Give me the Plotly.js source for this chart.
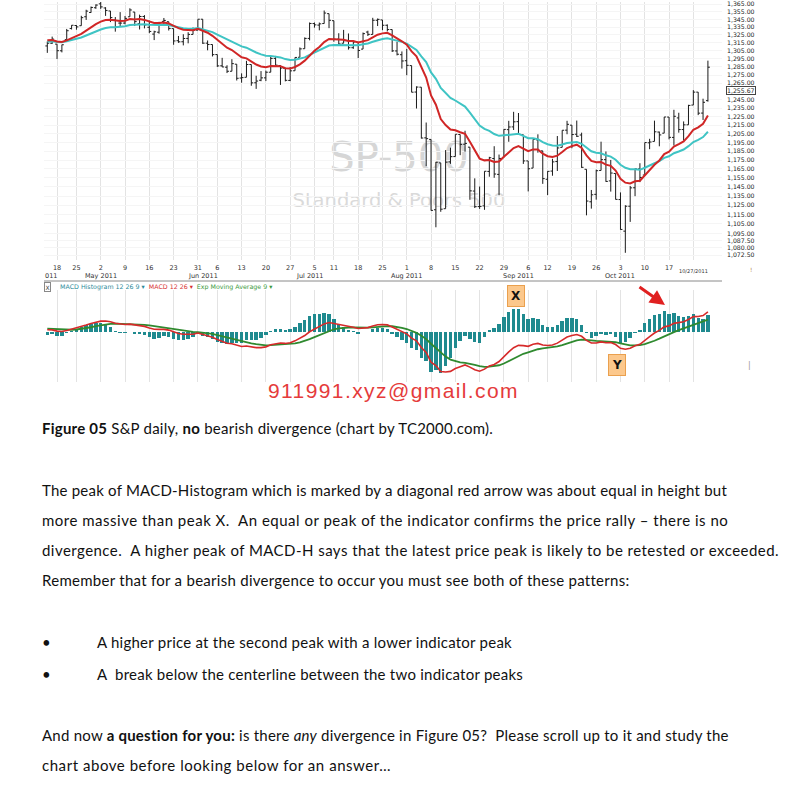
<!DOCTYPE html>
<html><head><meta charset="utf-8">
<script src="https://cdn.plot.ly/plotly-3.0.1.min.js"></script>
<style>
html,body{margin:0;padding:0;background:#fff;}
body{width:787px;height:787px;position:relative;overflow:hidden;}
#wm1,#wm2{position:absolute;font-family:"DejaVu Sans",sans-serif;white-space:pre;transform:translate(-50%,-50%);}
#wm1{left:399px;top:157px;font-size:40px;color:#d6d6d6;}
#wm2{left:399px;top:200px;font-size:19.5px;color:#dadada;}
#chart{position:absolute;left:0;top:0;width:787px;height:392px;}
.ln{position:absolute;white-space:pre;font-family:Lato,"Open Sans",sans-serif;font-size:15px;line-height:20px;color:#111;}
#mail{position:absolute;white-space:pre;font-family:"Liberation Sans",Arial,sans-serif;font-size:21px;line-height:24px;color:#e53b3b;left:268px;top:379px;}
</style></head>
<body>
<div id="wm1">SP-500</div>
<div id="wm2">Standard &amp; Poors 500</div>
<div id="chart"></div>
<div id="mail" data-w="251">911991.xyz@gmail.com</div>
<div class="ln" data-w="451" style="left:42px;top:418px;"><b>Figure 05</b> S&amp;P daily, <b>no</b> bearish divergence (chart by TC2000.com).</div>
<div class="ln" data-w="685" style="left:42px;top:480px;">The peak of MACD-Histogram which is marked by a diagonal red arrow was about equal in height but</div>
<div class="ln" data-w="686" style="left:42px;top:510px;">more massive than peak X.  An equal or peak of the indicator confirms the price rally – there is no</div>
<div class="ln" data-w="737" style="left:42px;top:540px;">divergence.  A higher peak of MACD-H says that the latest price peak is likely to be retested or exceeded.</div>
<div class="ln" data-w="587" style="left:42px;top:570px;">Remember that for a bearish divergence to occur you must see both of these patterns:</div>
<div class="ln" style="left:42px;top:632px;">•</div>
<div class="ln" data-w="415" style="left:97px;top:632px;">A higher price at the second peak with a lower indicator peak</div>
<div class="ln" style="left:42px;top:664px;">•</div>
<div class="ln" data-w="426" style="left:97px;top:664px;">A  break below the centerline between the two indicator peaks</div>
<div class="ln" data-w="687" style="left:42px;top:725px;">And now <b>a question for you:</b> is there <i>any</i> divergence in Figure 05?  Please scroll up to it and study the</div>
<div class="ln" data-w="349" style="left:42px;top:755px;">chart above before looking below for an answer…</div>
<script>
// ---- S&P 500 daily bars ----
const dates = [
'2011-04-14','2011-04-15','2011-04-18','2011-04-19','2011-04-20','2011-04-21','2011-04-25','2011-04-26','2011-04-27','2011-04-28','2011-04-29',
'2011-05-02','2011-05-03','2011-05-04','2011-05-05','2011-05-06','2011-05-09','2011-05-10','2011-05-11','2011-05-12','2011-05-13','2011-05-16','2011-05-17','2011-05-18','2011-05-19','2011-05-20','2011-05-23','2011-05-24','2011-05-25','2011-05-26','2011-05-27','2011-05-31',
'2011-06-01','2011-06-02','2011-06-03','2011-06-06','2011-06-07','2011-06-08','2011-06-09','2011-06-10','2011-06-13','2011-06-14','2011-06-15','2011-06-16','2011-06-17','2011-06-20','2011-06-21','2011-06-22','2011-06-23','2011-06-24','2011-06-27','2011-06-28','2011-06-29','2011-06-30',
'2011-07-01','2011-07-05','2011-07-06','2011-07-07','2011-07-08','2011-07-11','2011-07-12','2011-07-13','2011-07-14','2011-07-15','2011-07-18','2011-07-19','2011-07-20','2011-07-21','2011-07-22','2011-07-25','2011-07-26','2011-07-27','2011-07-28','2011-07-29',
'2011-08-01','2011-08-02','2011-08-03','2011-08-04','2011-08-05','2011-08-08','2011-08-09','2011-08-10','2011-08-11','2011-08-12','2011-08-15','2011-08-16','2011-08-17','2011-08-18','2011-08-19','2011-08-22','2011-08-23','2011-08-24','2011-08-25','2011-08-26','2011-08-29','2011-08-30','2011-08-31',
'2011-09-01','2011-09-02','2011-09-06','2011-09-07','2011-09-08','2011-09-09','2011-09-12','2011-09-13','2011-09-14','2011-09-15','2011-09-16','2011-09-19','2011-09-20','2011-09-21','2011-09-22','2011-09-23','2011-09-26','2011-09-27','2011-09-28','2011-09-29','2011-09-30',
'2011-10-03','2011-10-04','2011-10-05','2011-10-06','2011-10-07','2011-10-10','2011-10-11','2011-10-12','2011-10-13','2011-10-14','2011-10-17','2011-10-18','2011-10-19','2011-10-20','2011-10-21','2011-10-24','2011-10-25','2011-10-26','2011-10-27'];

const openP = [
1311.1,1314.5,1313.4,1305.0,1319.1,1333.2,1337.1,1336.8,1348.4,1353.9,1360.1,
1365.2,1359.8,1355.9,1344.2,1340.2,1340.2,1348.3,1354.5,1339.4,1348.7,1334.8,1326.1,1328.5,1342.4,1342.0,1333.1,1317.7,1316.4,1320.6,1325.7,1331.1,
1345.2,1314.6,1312.9,1300.3,1286.3,1284.6,1279.6,1288.3,1271.3,1272.2,1287.9,1265.5,1268.6,1271.5,1278.4,1295.5,1286.6,1283.0,1268.4,1280.2,1296.9,1307.6,
1320.6,1339.6,1337.6,1339.6,1352.4,1343.3,1319.6,1314.5,1317.7,1308.9,1315.9,1307.1,1328.7,1325.7,1343.8,1344.3,1337.4,1331.9,1304.8,1300.1,
1292.6,1286.6,1254.3,1260.2,1200.3,1198.5,1120.2,1171.8,1121.3,1172.9,1178.9,1204.2,1193.0,1189.6,1140.5,1123.6,1124.4,1162.2,1176.7,1158.9,1177.9,1209.8,1213.0,
1219.1,1203.9,1174.0,1165.9,1198.0,1185.4,1153.5,1162.6,1173.3,1189.4,1209.2,1215.0,1204.5,1203.6,1164.6,1128.8,1136.9,1163.3,1175.4,1151.7,1159.9,
1131.2,1097.4,1124.0,1144.1,1165.0,1158.2,1194.6,1196.2,1207.0,1205.7,1224.5,1200.8,1223.5,1209.9,1215.4,1238.7,1254.2,1229.2,1244.0];

const highP = [
1316.8,1322.9,1313.4,1312.7,1332.7,1337.5,1337.6,1349.6,1357.5,1361.7,1364.6,
1370.6,1360.8,1355.9,1348.0,1354.4,1349.4,1359.4,1354.5,1351.1,1350.5,1343.3,1330.4,1341.8,1346.8,1342.0,1333.1,1323.7,1325.9,1328.5,1334.6,1345.2,
1345.2,1318.0,1312.9,1300.3,1296.2,1287.0,1294.5,1288.3,1277.0,1292.5,1287.9,1274.1,1279.8,1280.4,1297.6,1298.6,1286.8,1283.9,1284.9,1296.8,1309.2,1321.9,
1341.0,1340.9,1340.9,1356.5,1352.4,1343.3,1327.2,1331.5,1326.9,1317.7,1315.9,1328.1,1330.4,1347.0,1346.1,1344.3,1338.5,1331.9,1316.3,1304.2,
1307.4,1286.6,1261.2,1260.2,1218.1,1198.5,1172.9,1171.8,1186.3,1189.0,1204.5,1204.2,1208.5,1189.6,1154.5,1145.5,1162.4,1178.6,1190.7,1181.2,1210.3,1220.1,1230.7,
1229.3,1203.9,1174.0,1198.6,1204.4,1185.4,1162.5,1176.4,1202.4,1209.1,1220.1,1215.0,1220.4,1206.3,1164.6,1141.7,1164.2,1195.9,1184.7,1175.1,1159.9,
1139.0,1125.1,1146.1,1165.6,1171.4,1194.9,1199.2,1220.3,1207.5,1224.6,1224.5,1233.1,1229.6,1219.4,1239.0,1256.6,1254.2,1246.3,1292.7];

const lowP = [
1302.4,1313.7,1294.7,1303.0,1319.1,1332.0,1331.7,1336.8,1344.3,1353.6,1358.7,
1358.6,1349.5,1341.5,1329.2,1336.4,1338.6,1348.3,1336.4,1332.0,1333.4,1327.3,1318.5,1326.6,1336.4,1330.7,1312.6,1315.0,1311.8,1314.4,1325.7,1331.1,
1313.7,1305.6,1297.9,1284.9,1284.7,1277.4,1279.6,1268.3,1265.6,1272.2,1261.9,1258.1,1267.4,1267.6,1278.4,1286.8,1262.9,1267.2,1267.5,1280.2,1296.9,1307.6,
1318.2,1334.3,1330.9,1339.6,1333.7,1316.4,1313.3,1314.5,1306.5,1307.4,1295.9,1307.1,1323.7,1325.7,1336.4,1331.1,1329.6,1303.5,1299.2,1282.9,
1274.7,1254.0,1234.6,1199.5,1168.1,1119.3,1101.5,1118.0,1121.3,1170.7,1178.9,1180.5,1184.4,1131.0,1122.1,1121.1,1120.1,1156.3,1155.1,1135.9,1177.9,1195.8,1209.4,
1203.9,1170.6,1140.1,1165.9,1183.3,1148.4,1136.1,1157.4,1162.7,1189.4,1204.5,1188.4,1201.3,1166.2,1114.2,1121.4,1131.1,1163.3,1150.7,1139.9,1131.3,
1098.9,1074.8,1107.2,1134.9,1150.3,1158.2,1187.3,1196.2,1190.6,1205.7,1198.6,1191.5,1206.3,1197.3,1215.4,1238.7,1226.8,1221.1,1242.8];

const closeP = [
1314.5,1319.7,1305.1,1312.6,1330.4,1337.4,1335.3,1347.2,1355.7,1360.5,1363.6,
1361.2,1356.6,1347.3,1335.1,1340.2,1346.3,1357.2,1342.1,1348.7,1337.8,1329.5,1329.0,1340.7,1343.6,1333.3,1317.4,1316.3,1320.5,1325.7,1331.1,1345.2,
1314.6,1312.9,1300.2,1286.2,1284.9,1279.6,1289.0,1271.0,1271.8,1287.9,1265.4,1267.6,1271.5,1278.4,1295.5,1287.1,1283.5,1268.5,1280.1,1296.7,1307.4,1320.6,
1339.7,1337.9,1339.2,1353.2,1343.8,1319.5,1313.6,1317.7,1308.9,1316.1,1305.4,1326.7,1325.8,1343.8,1345.0,1337.4,1331.9,1304.9,1300.7,1292.3,
1286.9,1254.1,1260.3,1200.1,1199.4,1119.5,1172.5,1120.8,1172.6,1178.8,1204.5,1192.8,1193.9,1140.7,1123.5,1123.8,1162.4,1177.6,1159.3,1176.8,1210.1,1212.9,1218.9,
1204.4,1174.0,1165.2,1198.6,1185.9,1154.2,1162.3,1172.9,1188.7,1209.1,1216.0,1204.1,1202.1,1166.8,1129.6,1136.4,1163.0,1175.4,1151.1,1160.4,1131.4,
1099.2,1124.0,1144.0,1165.0,1155.5,1194.9,1195.5,1207.3,1203.7,1224.6,1200.9,1225.4,1209.9,1215.4,1238.3,1254.2,1229.1,1242.0,1284.6];

// starting levels of the averages at the left edge
const ema13Start = 1319, ema26Start = 1317, ema12Start = 1320, signalStart = 4;

// ---- axis labels ----
const tickDates = ['2011-04-18','2011-04-25','2011-05-02','2011-05-09','2011-05-16','2011-05-23','2011-05-31','2011-06-06','2011-06-13','2011-06-20','2011-06-27','2011-07-05','2011-07-11','2011-07-18','2011-07-25','2011-08-01','2011-08-08','2011-08-15','2011-08-22','2011-08-29','2011-09-06','2011-09-12','2011-09-19','2011-09-26','2011-10-03','2011-10-10','2011-10-17','2011-10-24'];
const tickLabels = ['18','25','2','9','16','23','31','6','13','20','27','5','11','18','25','1','8','15','22','29','6','12','19','26','3','10','17',''];
const monthDates = ['2011-05-02','2011-06-01','2011-07-01','2011-08-01','2011-09-01','2011-10-03'];
const monthLabels = ['May 2011','Jun 2011','Jul 2011','Aug 2011','Sep 2011','Oct 2011'];
const priceTickVals = [1365,1355,1345,1335,1325,1315,1305,1295,1285,1275,1265,1245,1235,1225,1215,1205,1195,1185,1175,1165,1155,1145,1135,1125,1115,1105,1095,1087.5,1080,1072.5];
const priceTickLabels = ['1,365.00','1,355.00','1,345.00','1,335.00','1,325.00','1,315.00','1,305.00','1,295.00','1,285.00','1,275.00','1,265.00','1,245.00','1,235.00','1,225.00','1,215.00','1,205.00','1,195.00','1,185.00','1,175.00','1,165.00','1,155.00','1,145.00','1,135.00','1,125.00','1,115.00','1,105.00','1,095.00','1,087.50','1,080.00','1,072.50'];
const lastPrice = 1255.67, lastPriceLabel = '1,255.67';

// ---- indicators as the charting program derives them from the closes ----
function ema(vals, period, start){ const k = 2/(period+1); let e = start; return vals.map(v => (e = e + k*(v - e))); }
const ema13 = ema(closeP, 13, ema13Start);
const ema26 = ema(closeP, 26, ema26Start);
const ema12 = ema(closeP, 12, ema12Start);
const macd = ema12.map((v,i) => v - ema26[i]);
const signal = ema(macd, 9, signalStart);
const hist = macd.map((v,i) => v - signal[i]);

const idx = dates.map((d,i) => i);
const tickIdx = tickDates.map(d => dates.indexOf(d));
const W = 787, H = 392;
const px = x => x / W, py = y => 1 - y / H;
const xr = [-0.68, 138.9];
const gridC = '#e3e3e3';
const tickFont = {family:'DejaVu Sans', size:6.5, color:'#333'};
const priceFont = {family:'DejaVu Sans', size:6.2, color:'#222'};

// MACD panel: zero line sits 42 px below the top of the 92 px panel
const macdMin = Math.min(...macd), histMin = Math.min(...hist);
const uM = Math.abs(macdMin)/40, uH = Math.abs(histMin)/41;

const traces = [
  {type:'ohlc', x:idx, open:openP, high:highP, low:lowP, close:closeP, xaxis:'x', yaxis:'y',
   increasing:{line:{color:'#1a1a1a', width:1}}, decreasing:{line:{color:'#1a1a1a', width:1}},
   tickwidth:0.4, hoverinfo:'skip'},
  {type:'scatter', mode:'lines', x:idx, y:ema26, xaxis:'x', yaxis:'y', line:{color:'#3fc4c4', width:2}, hoverinfo:'skip'},
  {type:'scatter', mode:'lines', x:idx, y:ema13, xaxis:'x', yaxis:'y', line:{color:'#d02626', width:2}, hoverinfo:'skip'},
  {type:'bar', x:idx, y:hist, xaxis:'x2', yaxis:'y2', marker:{color:'#1f8a8f'}, width:0.7, hoverinfo:'skip'},
  {type:'scatter', mode:'lines', x:idx, y:signal, xaxis:'x2', yaxis:'y3', line:{color:'#2f8a2f', width:1.8}, hoverinfo:'skip'},
  {type:'scatter', mode:'lines', x:idx, y:macd, xaxis:'x2', yaxis:'y3', line:{color:'#d62a2a', width:1.6}, hoverinfo:'skip'}
];

const annotations = [];
monthDates.forEach((d,i) => annotations.push({xref:'x', yref:'paper', x:dates.indexOf(d), y:py(275.5), text:monthLabels[i], showarrow:false, font:tickFont, yanchor:'middle'}));
annotations.push({xref:'paper', yref:'paper', x:px(43), y:py(275.5), xanchor:'left', yanchor:'middle', text:'011', showarrow:false, font:tickFont});
annotations.push({xref:'x', yref:'paper', x:idx[idx.length-1]+0.5, y:py(271), xanchor:'right', yanchor:'middle', text:'10/27/2011', showarrow:false, font:{family:'DejaVu Sans', size:5, color:'#333'}});
annotations.push({xref:'paper', yref:'y', x:px(725.5), y:Math.log10(lastPrice), xanchor:'left', yanchor:'middle', text:lastPriceLabel, showarrow:false, font:priceFont, bordercolor:'#444', borderwidth:1, borderpad:0, bgcolor:'#fff'});
annotations.push({xref:'paper', yref:'paper', x:px(44), y:py(287), xanchor:'left', yanchor:'middle', text:'X', showarrow:false, font:{family:'DejaVu Sans', size:6, color:'#444'}, bordercolor:'#888', borderwidth:1, borderpad:0.5});
annotations.push({xref:'paper', yref:'paper', x:px(58), y:py(287), xanchor:'left', yanchor:'middle', showarrow:false, font:{family:'DejaVu Sans', size:6.3, color:'#2b8a99'},
  text:'<span style="color:#2b8a99">MACD Histogram 12 26 9 ▾</span>  <span style="color:#d83030">MACD 12 26 ▾</span>  <span style="color:#3c9a3c">Exp Moving Average 9 ▾</span>'});
annotations.push({xref:'paper', yref:'paper', x:px(516), y:py(295.5), xanchor:'center', yanchor:'middle', text:'<b>X</b>', showarrow:false, font:{family:'DejaVu Sans', size:12, color:'#111'}, bgcolor:'#fcc88c', bordercolor:'#eaa04e', borderwidth:1, borderpad:3});
annotations.push({xref:'paper', yref:'paper', x:px(617), y:py(364.5), xanchor:'center', yanchor:'middle', text:'<b>Y</b>', showarrow:false, font:{family:'DejaVu Sans', size:12, color:'#111'}, bgcolor:'#fcc88c', bordercolor:'#eaa04e', borderwidth:1, borderpad:3});
annotations.push({xref:'paper', yref:'paper', x:px(665), y:py(305), ax:-27, ay:-19, text:'', showarrow:true, arrowhead:2, arrowsize:1, arrowwidth:3, arrowcolor:'#e02020'});
annotations.push({xref:'paper', yref:'paper', x:px(753), y:py(269), yanchor:'middle', text:'!', showarrow:false, font:{family:'DejaVu Sans', size:6, color:'#b08040'}, borderpad:0});
annotations.push({xref:'paper', yref:'paper', x:px(753), y:py(372), text:'|', showarrow:false, font:{family:'DejaVu Sans', size:8, color:'#999'}});

const layout = {
  width:W, height:H, margin:{l:0, r:0, t:0, b:0},
  paper_bgcolor:'rgba(0,0,0,0)', plot_bgcolor:'rgba(0,0,0,0)',
  showlegend:false, bargap:0,
  xaxis:{domain:[px(44), px(722)], range:xr, anchor:'y', tickmode:'array', tickvals:tickIdx, ticktext:tickLabels,
         showgrid:true, gridcolor:gridC, gridwidth:1, zeroline:false, showline:false, ticks:'', tickfont:tickFont,
         ticklabelstandoff:2, rangeslider:{visible:false}, fixedrange:true},
  yaxis:{domain:[py(260), py(2)], type:'log', range:[3.02833, 3.135967], anchor:'x', side:'right',
         tickmode:'array', tickvals:priceTickVals, ticktext:priceTickLabels, tickfont:priceFont,
         showgrid:true, gridcolor:'#f5f5f5', zeroline:false, showline:false, ticks:'', ticklabelstandoff:4,
         ticklabeloverflow:'allow', fixedrange:true},
  xaxis2:{domain:[px(44), px(722)], range:xr, anchor:'y2', tickmode:'array', tickvals:tickIdx, showticklabels:false,
          showgrid:true, gridcolor:gridC, gridwidth:1, zeroline:false, showline:false, ticks:'', fixedrange:true},
  yaxis2:{domain:[py(382), py(290)], anchor:'x2', range:[-50*uH, 42*uH], showgrid:false, showticklabels:false, zeroline:false, ticks:'', fixedrange:true},
  yaxis3:{overlaying:'y2', anchor:'x2', range:[-50*uM, 42*uM], showgrid:false, showticklabels:false, zeroline:false, ticks:'', fixedrange:true},
  shapes:[{type:'line', xref:'paper', yref:'paper', x0:px(44), x1:px(722), y0:py(281), y1:py(281), line:{color:'#8a8a8a', width:1}}],
  annotations:annotations
};
Plotly.newPlot('chart', traces, layout, {displayModeBar:false, staticPlot:true});

function fit(){
  document.querySelectorAll('[data-w]').forEach(el => {
    el.style.letterSpacing = '0px';
    const w = el.getBoundingClientRect().width;
    const n = el.textContent.length;
    el.style.letterSpacing = ((+el.dataset.w - w)/n) + 'px';
  });
}
document.fonts.ready.then(fit);
</script>
</body></html>
